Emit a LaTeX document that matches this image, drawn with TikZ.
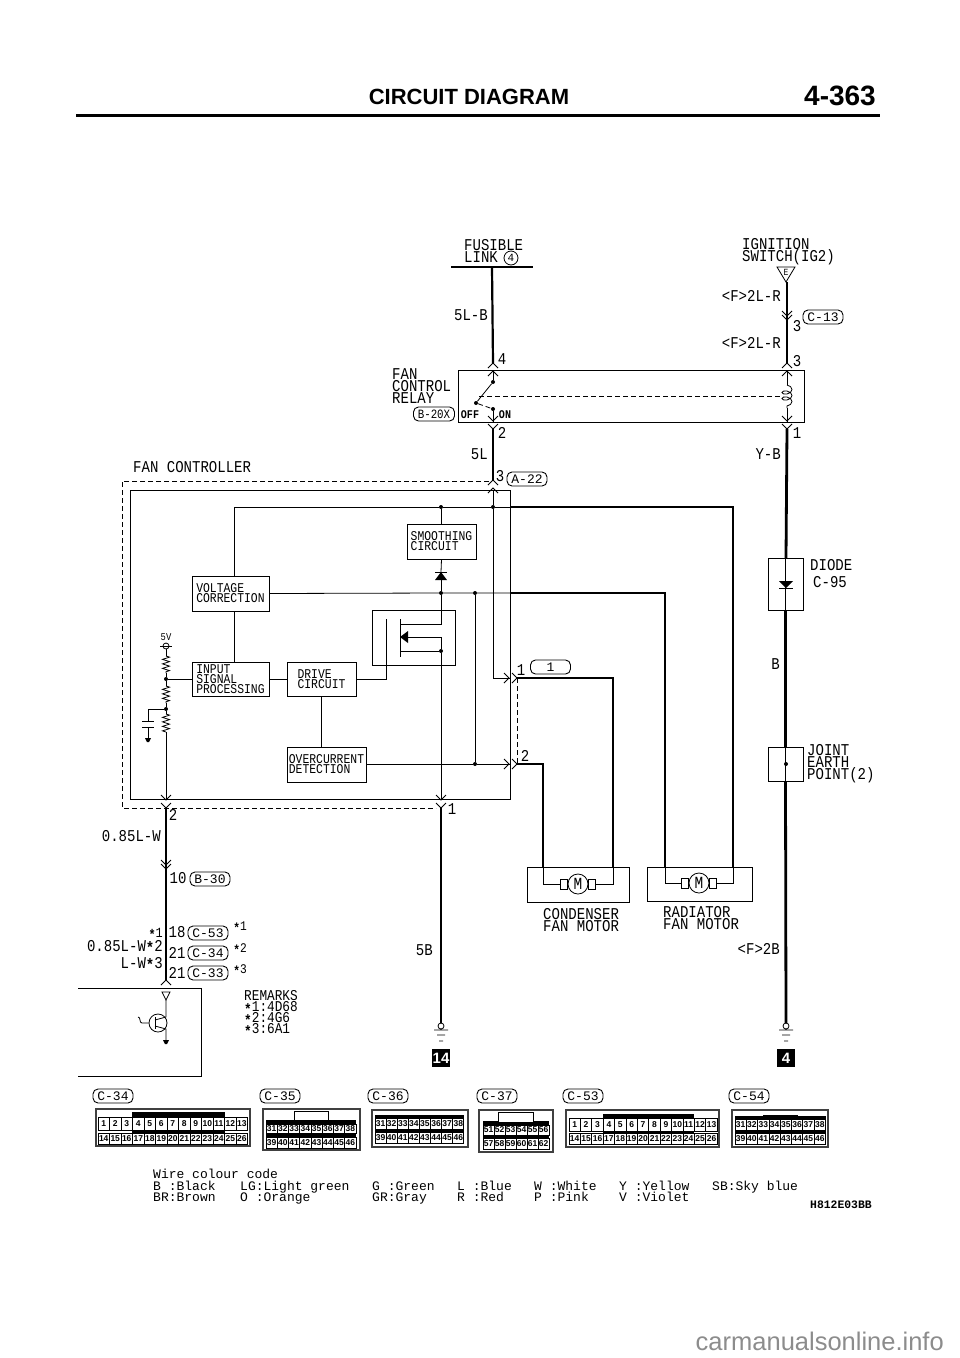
\documentclass[tikz,border=0pt]{standalone}
\usepackage{fontspec}
\setmainfont[FakeStretch=0.85]{Liberation Mono}
\newfontfamily\widefont{Liberation Mono}
\newfontfamily\headfont{Liberation Sans}
\usetikzlibrary{positioning,calc,decorations.pathmorphing}
\setlength{\lineskiplimit}{-20pt}

\newcommand{\pinrow}[7]{%
  \foreach \n [count=\i from 0] in {#5,...,#6}
    \node[pinbox, minimum width=#4, minimum height=#7] (#1-\n) at ({#2+(\i+.5)*#4},#3) {\n};}
\newcommand{\legendcol}[4]{%
  \node[legend] (#1a) at (#2,1186.5) {#3};
  \node[legend] (#1b) at (#2,1197.5) {#4};}
\newcommand{\mk}{\raisebox{-2.5pt}{\bfseries *}}

\begin{document}
\begin{tikzpicture}[
    x=1pt, y=-1pt,
    lbl/.style={inner sep=0pt, font=\fontsize{16.5}{12}\selectfont, align=left},
    lblr/.style={lbl, anchor=east},
    lbll/.style={lbl, anchor=west},
    markl/.style={inner sep=0pt, font=\fontsize{13.2}{12}\selectfont},
    small/.style={inner sep=0pt, anchor=west, font=\fontsize{13.4}{10}\selectfont, align=left},
    legend/.style={inner sep=0pt, anchor=west, font=\widefont\fontsize{13}{11}\selectfont, text height=9pt, text depth=2pt},
    box/.style={draw, line width=0.8pt, inner sep=0pt},
    tag/.style={draw, rounded corners=5pt, line width=0.9pt, inner sep=0pt, minimum width=40, minimum height=14, font=\widefont\fontsize{13}{12}\selectfont},
    wire/.style={line width=2.2pt},
    heavy/.style={line width=2.8pt},
    hair/.style={line width=0.8pt},
    dashline/.style={line width=0.8pt, dash pattern=on 5pt off 3pt},
    jdot/.style={circle, fill, inner sep=0pt, minimum size=4},
    motorsym/.style={draw, circle, line width=0.8pt, inner sep=0pt, minimum size=20, font=\fontsize{17}{13}\selectfont},
    brush/.style={draw, line width=0.8pt, inner sep=0pt, minimum width=7, minimum height=10},
    blacktag/.style={fill=black, text=white, inner sep=0pt, minimum size=18, font=\headfont\bfseries\fontsize{15}{15}\selectfont},
    pinbox/.style={draw, fill=white, line width=0.7pt, inner sep=0pt, font=\headfont\bfseries\fontsize{8.5}{8.5}\selectfont},
    connbody/.style={draw=black!75, fill=white, line width=1.3pt, inner sep=0pt},
    zig/.style={line width=0.8pt, decorate, decoration={zigzag, amplitude=3.5pt, segment length=4.5pt}},
    chev/.pic={\draw[hair] (-5,5) -- (0,0) -- (5,5);},
    pair/.pic={\draw[hair] (-5,5) -- (0,0) -- (5,5) (-5,13) -- (0,8) -- (5,13);},
    tight/.pic={\draw[hair] (-5,5) -- (0,0) -- (5,5) (-5,9) -- (0,4) -- (5,9);},
    gnd/.pic={\draw[hair] (0,3) circle (3pt) (-7,7) -- (7,7) (-4,12) -- (4,12) (-2,18) -- (2,18);},
    star/.pic={\fill (-3,0) -- (3,0) -- (1,4) -- (-1,4) -- cycle;}
]
\useasboundingbox (0,0) rectangle (960,1358);

% Page head
\node[inner sep=0pt, font=\headfont\bfseries\fontsize{22}{22}\selectfont] (pagetitle) at (469,97) {CIRCUIT DIAGRAM};
\node[inner sep=0pt, font=\headfont\bfseries\fontsize{28}{28}\selectfont] (pagenum) at (840,96) {4-363};
\coordinate (ruleL) at (76,115);
\coordinate (ruleR) at (880,115);
\draw[line width=3pt] (ruleL) -- (ruleR);

% Fusible link
\node[lbll] (fusible) at (464,251) {FUSIBLE\\LINK};
\node[draw, circle, line width=0.8pt, inner sep=0pt, minimum size=14, font=\widefont\fontsize{11}{11}\selectfont] (link4) at (511,258) {4};
\coordinate (barL) at (451,267);
\coordinate (barR) at (533,267);
\coordinate (barM) at (492,267);
\draw[line width=1.4pt] (barL) -- (barR);

% Ignition switch
\node[lbll] (ignition) at (742,252) {IGNITION\\SWITCH(IG2)};
\draw[hair] (777,267) -- (795,267) -- (786,282) -- cycle;
\node[inner sep=0pt, font=\fontsize{9.4}{8}\selectfont] (swE) at (786,272) {E};
\coordinate (swtip) at (787,282);

% Relay
\node[box, minimum width=346, minimum height=52] (relay) at (631,396) {};
\node[lbll] (relaytxt) at (392,386) {FAN\\CONTROL\\RELAY};
\node[tag, minimum width=41, font=\fontsize{12.7}{12}\selectfont] (b20x) at (434,414) {B-20X};
\coordinate (r4) at (493,363);
\coordinate (r4in) at (493,382);
\coordinate (rarm) at (476,403);
\coordinate (ron) at (493,409);
\coordinate (r2) at (493,429);
\coordinate (r3) at (787,363);
\coordinate (rcoilT) at (787,385);
\coordinate (rcoilB) at (787,408);
\coordinate (r1) at (787,429);
\coordinate (a22) at (493,480);
\node[jdot] (d4) at (r4in) {};
\node[jdot] (darm) at (rarm) {};
\node[jdot] (don) at (ron) {};
\draw[hair] (493,372) -- (d4);
\draw[hair] (d4) -- (darm);
\draw[dashline] (darm) -- (don);
\draw[hair] (don) -- (493,422);
\draw[dashline] (479,396) -- (783,396);
\draw[hair] (787,372) -- (rcoilT);
\draw[hair, decorate, decoration={coil, amplitude=5pt, segment length=6pt, aspect=0.6}] (rcoilT) -- (rcoilB);
\draw[hair] (rcoilB) -- (787,422);
\node[inner sep=0pt, font=\bfseries\fontsize{11.8}{10}\selectfont] (off) at (470,415) {OFF};
\node[inner sep=0pt, font=\bfseries\fontsize{11.8}{10}\selectfont] (on) at (505,415) {ON};
\pic at (r4) {pair};
\pic at (r3) {pair};
\pic[rotate=180] at (r2) {pair};
\pic[rotate=180] at (r1) {pair};
\pic at (a22) {pair};
\pic[rotate=180] at (787,320) {tight};

% Supply wires
\draw[wire] (barM) -- (r4);
\draw[wire] (r2) -- (a22);
\draw[heavy] (swtip) -- (r3);
\draw[heavy] (r1) -- (786,558);

\node[lblr] (w5lb) at (488,315) {5L-B};
\node[lbl] (p4) at (502,359) {4};
\node[lbl] (p2) at (502,433) {2};
\node[lblr] (w5l) at (488,454) {5L};
\node[lbl] (p3a) at (500,476) {3};
\node[tag] (a22tag) at (527,479) {A-22};
\node[lblr] (wf1) at (781,296) {<F>2L-R};
\node[lblr] (wf2) at (781,343) {<F>2L-R};
\node[lbl] (p3b) at (797,326) {3};
\node[lbl] (p3c) at (797,361) {3};
\node[lbl] (p1r) at (797,433) {1};
\node[tag] (c13) at (823,317) {C-13};
\node[lblr] (wyb) at (781,454) {Y-B};

% Fan controller
\node[lbll] (ctrltxt) at (133,467) {FAN CONTROLLER};
\node[box, minimum width=380, minimum height=309] (ctrl) at (320,644.5) {};
\coordinate (dashTR) at (489,481);
\coordinate (dashTL) at (122,481);
\coordinate (dashBL) at (122,808);
\coordinate (dashBR) at (436,808);
\draw[dashline] (dashTR) -- (dashTL) -- (dashBL) -- (dashBR);

\node[box, minimum width=69, minimum height=35] (smooth) at (441.5,541.5) {};
\node[small, anchor=center] (smoothtxt) at (smooth) {SMOOTHING\\CIRCUIT\phantom{XX}};
\node[box, minimum width=77, minimum height=35] (volt) at (230.5,593.5) {};
\node[small, anchor=center] (volttxt) at (volt) {VOLTAGE\phantom{XXX}\\CORRECTION};
\node[box, minimum width=77, minimum height=34] (input) at (230.5,679) {};
\node[small, anchor=center] (inputtxt) at (input) {INPUT\phantom{XXXXX}\\SIGNAL\phantom{XXXX}\\PROCESSING};
\node[box, minimum width=69, minimum height=34] (drive) at (321.5,679) {};
\node[small, anchor=center] (drivetxt) at (drive) {DRIVE\phantom{XX}\\CIRCUIT};
\node[box, minimum width=79, minimum height=35] (over) at (326.5,764.5) {};
\node[small, anchor=center] (overtxt) at (over) {OVERCURRENT\\DETECTION\phantom{XX}};
\node[box, minimum width=83, minimum height=55] (fet) at (413.5,637.5) {};

% Rails inside the controller
\coordinate (railL) at (234,507);
\node[jdot] (jsm) at (441,507) {};
\node[jdot] (jtop) at (493,507) {};
\coordinate (railE) at (510,507);
\coordinate (railR) at (733,507);
\node[jdot] (jdr) at (441,593) {};
\node[jdot] (jmid) at (475,593) {};
\coordinate (midE) at (510,593);
\coordinate (midR) at (665,593);
\node[jdot] (jov) at (475,764) {};
\coordinate (pin1) at (517,678);
\coordinate (pin1in) at (510,678);
\coordinate (pin2) at (517,764);
\coordinate (pin2in) at (510,764);
\draw[hair] (railL) -- (jsm) -- (jtop) -- (railE);
\draw[hair] (railL) -- (railL |- volt.north);
\draw[hair] (jsm) -- (jsm |- smooth.north);
\draw[hair] (493,490) -- (jtop);
\draw[hair] (jtop) |- (pin1in);
\draw[hair] (volt.east) -- (jdr) -- (jmid) -- (midE);
\draw[hair] (jmid) -- (jov);
\draw[hair] (over.east |- jov) -- (jov) -- (pin2in);
\draw[dashline] (pin1) -- (pin2);
\pic[rotate=-90] at (pin1) {pair};
\pic[rotate=-90] at (pin2) {pair};
\draw[hair] (volt.south -| railL) -- (input.north -| railL);
\draw[hair] (input.east) -- (drive.west);
\draw[hair] (over.north -| drive) -- (drive.south);

% Smoothing diode and output transistor
\coordinate (dioT) at (441,572);
\coordinate (dioB) at (441,580);
\draw[hair] (smooth.south) -- (dioT);
\draw[hair] (dioB) -- (jdr);
\fill (dioT) -- (447,580) -- (435,580) -- cycle;
\draw[line width=1pt] (435,572) -- (447,572);
\coordinate (gate) at (386,619);
\draw[hair] (drive.east) -| (gate);
\draw[hair] (400,619) -- (400,657);
\node[jdot] (jsrc) at (441,651) {};
\draw[hair] (jdr) -- (441,624) -- (400,624);
\draw[hair] (jsrc) -- (441,637) -- (400,637);
\draw[hair] (jsrc) -- (400,651);
\fill (400,637) -- (408,631) -- (408,643) -- cycle;
\coordinate (c1) at (441,799);
\coordinate (c1o) at (441,808);
\draw[hair] (jsrc) -- (c1);
\pic[rotate=180] at (c1o) {pair};
\node[lbl] (p1b) at (452,809) {1};

% Sensor divider
\node[inner sep=0pt, font=\fontsize{10.4}{9}\selectfont] (v5) at (166,637) {5V};
\draw[hair] (160,646) -- (172,646);
\draw[hair] (166,646) circle (3pt);
\node[jdot] (jdiv1) at (166,679) {};
\node[jdot] (jdiv2) at (166,709) {};
\coordinate (c2) at (166,799);
\coordinate (c2o) at (166,808);
\draw[hair] (166,649) -- (166,656);
\draw[zig] (166,656) -- (166,673);
\draw[hair] (166,673) -- (jdiv1) -- (166,686);
\draw[zig] (166,686) -- (166,703);
\draw[hair] (166,703) -- (jdiv2) -- (166,714);
\draw[zig] (166,714) -- (166,732);
\draw[hair] (166,732) -- (c2);
\draw[hair] (jdiv1) -- (input.west);
\draw[hair] (jdiv2) -- (148,709) -- (148,721);
\draw[line width=1pt] (142,721) -- (154,721) (142,727) -- (154,727);
\draw[hair] (148,727) -- (148,738);
\pic at (148,738) {star};
\pic[rotate=180] at (c2o) {pair};
\node[lbl] (p2b) at (173,815) {2};

% Motors
\node[box, minimum width=102, minimum height=35] (cond) at (578,884.5) {};
\node[box, minimum width=105, minimum height=34] (rad) at (699.5,884) {};
\node[motorsym] (cmot) at (578,884) {M};
\node[motorsym] (rmot) at (699,883) {M};
\node[brush, left=0pt of cmot] (cbl) {};
\node[brush, right=0pt of cmot] (cbr) {};
\node[brush, left=0pt of rmot] (rbl) {};
\node[brush, right=0pt of rmot] (rbr) {};
\coordinate (cL) at (543,764);
\coordinate (cR) at (613,678);
\coordinate (rL) at (665,593);
\coordinate (rR) at (733,507);
\draw[heavy] (midE) -- (midR) -- (midR |- rad.north);
\draw[heavy] (railE) -- (railR) -- (railR |- rad.north);
\draw[heavy] (pin1) -- (cR) -- (cR |- cond.north);
\draw[heavy] (pin2) -- (cL) -- (cL |- cond.north);
\draw[hair] (cL |- cond.north) |- (cbl.west);
\draw[hair] (cR |- cond.north) |- (cbr.east);
\draw[hair] (rL |- rad.north) |- (rbl.west);
\draw[hair] (rR |- rad.north) |- (rbr.east);
\node[lbl] (p1c) at (521,670) {1};
\node[lbl] (p2c) at (525,756) {2};
\node[tag] (t1) at (550.5,667) {1};
\node[lbll] (condtxt) at (543,920) {CONDENSER\\FAN MOTOR};
\node[lbll] (radtxt) at (663,918) {RADIATOR\\FAN MOTOR};

% Diode and earth point
\node[box, minimum width=35, minimum height=52] (diode) at (785.5,584) {};
\node[box, minimum width=35, minimum height=34] (joint) at (785.5,764) {};
\node[jdot] (jearth) at (786,764) {};
\coordinate (rightG) at (786,1023);
\draw[hair] (diode.north) -- (diode.south);
\fill (779,581) -- (793,581) -- (786,588) -- cycle;
\draw[line width=1pt] (779,588) -- (793,588);
\draw[heavy] (diode.south) -- (joint.north);
\draw[hair] (joint.north) -- (joint.south);
\draw[heavy] (joint.south) -- (rightG);
\node[lbll] (diodetxt) at (810,565) {DIODE};
\node[lbll] (c95) at (813,582) {C-95};
\node[lblr] (wb) at (780,664) {B};
\node[lbll] (jointtxt) at (807,764) {JOINT\\EARTH\\POINT(2)};
\node[lblr] (w2b) at (780,949) {<F>2B};
\pic at (rightG) {gnd};
\node[blacktag] (e4) at (786,1058) {4};

% Left harness
\coordinate (dC) at (166,980);
\pic at (dC) {chev};
\pic[rotate=180] at (166,869) {tight};
\draw[heavy] (c2o) -- (dC);
\node[lblr] (w085a) at (161,836) {0.85L-W};
\node[lbl] (p10) at (178,878) {10};
\node[tag] (b30) at (210,879) {B-30};
\node[lblr, font=\fontsize{14}{12}\selectfont] (wk1) at (163,934) {\mk1};
\node[lblr] (w085b) at (163,947) {0.85L-W\mk2};
\node[lblr] (wlw) at (163,964) {L-W\mk3};
\node[lbl] (p18) at (177,932) {18};
\node[tag] (c53a) at (208,933) {C-53};
\node[markl] (k1) at (240,927) {\mk1};
\node[lbl] (p21a) at (177,953) {21};
\node[tag] (c34a) at (208,953) {C-34};
\node[markl] (k2) at (240,949) {\mk2};
\node[lbl] (p21b) at (177,973) {21};
\node[tag] (c33a) at (208,973) {C-33};
\node[markl] (k3) at (240,970) {\mk3};

% Engine unit
\coordinate (ecuTL) at (78,988);
\coordinate (ecuBL) at (78,1076);
\coordinate (ecuBR) at (201,1076);
\draw[hair] (ecuTL) -| (ecuBR) -- (ecuBL);
\draw[hair] (162,992) -- (170,992) -- (166,1000) -- cycle;
\node[draw, circle, line width=0.8pt, inner sep=0pt, minimum size=18] (trans) at (158,1023) {};
\draw[hair] (166,1000) -- (166,1017) -- (155,1020);
\draw[hair] (166,1041) -- (166,1029) -- (155,1026);
\draw[hair] (155,1017) -- (155,1029);
\draw[hair] (trans.west) -- (142,1023) .. controls (139,1023) and (141,1017) .. (138,1017);
\pic at (166,1040) {star};
\node[lbll, font=\fontsize{15}{11}\selectfont] (remarks) at (244,1013.5) {REMARKS\\\mk1:4D68\\\mk2:4G6\\\mk3:6A1};

% Earth wire
\coordinate (midG) at (441,1023);
\draw[heavy] (c1o) -- (midG);
\node[lblr] (w5b) at (433,950) {5B};
\pic at (midG) {gnd};
\node[blacktag] (e14) at (441,1058) {14};

% Connector C-34
\node[tag] (c34) at (113,1096) {C-34};
\node[connbody, minimum width=154, minimum height=37] (c34b) at (173,1127.5) {};
\fill (132,1112) rectangle (225,1117);
\fill (132,1129) rectangle (225,1134);
\pinrow{a}{98}{1123.5}{11.5}{1}{13}{13}
\pinrow{a}{98}{1139}{11.5}{14}{26}{11}

% Connector C-35
\node[tag] (c35) at (280,1096) {C-35};
\node[connbody, minimum width=97, minimum height=41] (c35b) at (311.5,1129.5) {};
\fill (266,1120) rectangle (356,1125);
\fill (266,1133) rectangle (356,1138);
\node[box, fill=white, minimum width=34, minimum height=9] (c35n) at (311,1115.5) {};
\pinrow{b}{266}{1129}{11.25}{31}{38}{9}
\pinrow{b}{266}{1143}{11.25}{39}{46}{11}

% Connector C-36
\node[tag] (c36) at (388,1096) {C-36};
\node[connbody, minimum width=96, minimum height=37] (c36b) at (420,1128.5) {};
\fill (375,1115) rectangle (464,1118);
\fill (375,1129) rectangle (464,1133);
\draw[line width=1pt] (403,1115) -- (436,1115);
\pinrow{c}{375}{1124}{11.1}{31}{38}{11}
\pinrow{c}{375}{1138}{11.1}{39}{46}{11}

% Connector C-37
\node[tag] (c37) at (497,1096) {C-37};
\node[connbody, minimum width=74, minimum height=42] (c37b) at (516,1131) {};
\fill (483,1121) rectangle (549,1125);
\fill (483,1135) rectangle (549,1139);
\node[box, fill=white, minimum width=35, minimum height=10] (c37n) at (515.5,1117) {};
\pinrow{d}{483}{1130}{11}{51}{56}{10}
\pinrow{d}{483}{1144}{11}{57}{62}{11}

% Connector C-53
\node[tag] (c53) at (583,1096) {C-53};
\node[connbody, minimum width=153, minimum height=37] (c53b) at (642.5,1128.5) {};
\fill (603,1114) rectangle (694,1119);
\fill (603,1131) rectangle (694,1134);
\draw[line width=1pt] (619,1115) -- (665,1115);
\pinrow{e}{569}{1125}{11.4}{1}{13}{13}
\pinrow{e}{569}{1139}{11.4}{14}{26}{11}

% Connector C-54
\node[tag] (c54) at (749,1096) {C-54};
\node[connbody, minimum width=96, minimum height=37] (c54b) at (780,1128.5) {};
\fill (735,1116) rectangle (826,1119);
\fill (735,1130) rectangle (826,1134);
\draw[line width=1pt] (763,1115) -- (798,1115);
\pinrow{f}{735}{1125}{11.3}{31}{38}{11}
\pinrow{f}{735}{1139}{11.3}{39}{46}{11}

% Wire colour code
\node[legend] (lg0) at (153,1174.5) {Wire colour code};
\legendcol{lg1}{153}{B :Black}{BR:Brown}
\legendcol{lg2}{240}{LG:Light green}{O :Orange}
\legendcol{lg3}{372}{G :Green}{GR:Gray}
\legendcol{lg4}{457}{L :Blue}{R :Red}
\legendcol{lg5}{534}{W :White}{P :Pink}
\legendcol{lg6}{619}{Y :Yellow}{V :Violet}
\node[legend] (lg7) at (712,1186.5) {SB:Sky blue};
\node[inner sep=0pt, anchor=west, font=\widefont\bfseries\fontsize{11.4}{11}\selectfont] (dwgno) at (810,1205) {H812E03BB};

% Site mark
\node[inner sep=0pt, anchor=east, text=black!45, font=\headfont\fontsize{25.5}{26}\selectfont] (sitemark) at (944,1341) {carmanualsonline.info};

\end{tikzpicture}
\end{document}
